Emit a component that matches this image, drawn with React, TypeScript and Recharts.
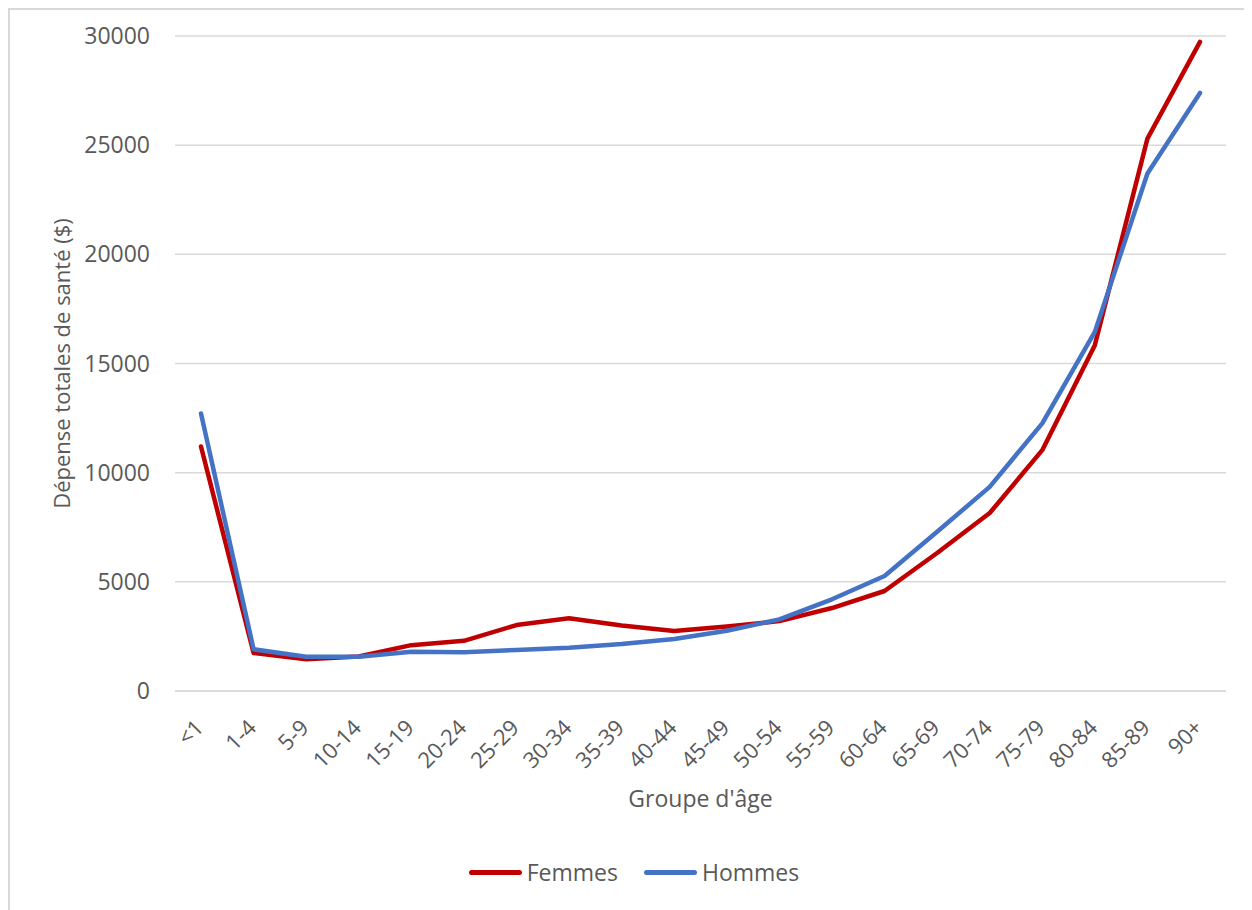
import React from 'react';
import { LineChart, Line, XAxis, YAxis, CartesianGrid, Legend } from 'recharts';

const ageGroups = ['<1', '1-4', '5-9', '10-14', '15-19', '20-24', '25-29', '30-34', '35-39', '40-44', '45-49', '50-54', '55-59', '60-64', '65-69', '70-74', '75-79', '80-84', '85-89', '90+'];
const femmes = [11200, 1740, 1450, 1580, 2100, 2300, 3020, 3330, 3000, 2750, 2950, 3200, 3800, 4580, 6320, 8150, 11030, 15840, 25300, 29730];
const hommes = [12710, 1910, 1570, 1570, 1800, 1780, 1880, 1980, 2150, 2380, 2760, 3280, 4200, 5270, 7290, 9350, 12260, 16450, 23700, 27390];
const yTicks = [0, 5000, 10000, 15000, 20000, 25000, 30000];

const series = [
  { key: 'femmes', name: 'Femmes', color: '#C00000' },
  { key: 'hommes', name: 'Hommes', color: '#4472C4' },
];

const data = ageGroups.map((age, i) => ({ age, femmes: femmes[i], hommes: hommes[i] }));

const FONT = '"Open Sans", sans-serif';
const TEXT = '#595959';
const GRID = '#d9d9d9';
const SIZE = 23;

function AgeTick({ x, y, payload }: any) {
  return (
    <g transform={`translate(${x + 4},${y + 30})`}>
      <text transform="rotate(-45)" textAnchor="end" fill={TEXT} fontSize={SIZE - 1} fontFamily={FONT}>
        {payload.value}
      </text>
    </g>
  );
}

function YTitle({ viewBox }: any) {
  const cx = viewBox.x + 51;
  const cy = viewBox.y + viewBox.height / 2;
  return (
    <text
      x={cx}
      y={cy}
      transform={`rotate(-90, ${cx}, ${cy})`}
      textAnchor="middle"
      dominantBaseline="central"
      fill={TEXT}
      fontSize={22}
      fontFamily={FONT}
    >
      Dépense totales de santé ($)
    </text>
  );
}

function LegendContent() {
  return (
    <div style={{ display: 'flex', justifyContent: 'center', alignItems: 'center', gap: 26, paddingLeft: 6 }}>
      {series.map((s) => (
        <div key={s.key} style={{ display: 'flex', alignItems: 'center', gap: 5 }}>
          <span style={{ display: 'inline-block', width: 53, height: 5, borderRadius: 3, background: s.color }} />
          <span style={{ color: TEXT, fontSize: SIZE, fontFamily: FONT, lineHeight: '30px' }}>{s.name}</span>
        </div>
      ))}
    </div>
  );
}

export default function App() {
  return (
    <div
      style={{
        width: 1242,
        height: 900,
        borderTop: `2px solid ${GRID}`,
        borderLeft: `2px solid ${GRID}`,
        background: '#fff',
        fontFamily: FONT,
      }}
    >
      <LineChart width={1242} height={900} data={data} margin={{ top: 26, right: 26, left: 0, bottom: 103 }}>
        <CartesianGrid vertical={false} stroke={GRID} strokeWidth={1.5} />
        <XAxis
          dataKey="age"
          interval={0}
          height={116}
          padding={{ left: 26, right: 26 }}
          axisLine={{ stroke: GRID, strokeWidth: 1.5 }}
          tickLine={false}
          tick={<AgeTick />}
          label={{ value: "Groupe d'âge", position: 'insideBottom', offset: 0, fill: TEXT, fontSize: SIZE, fontFamily: FONT }}
        />
        <YAxis
          width={165}
          domain={[0, 30000]}
          ticks={yTicks}
          axisLine={false}
          tickLine={false}
          tickMargin={19}
          tick={{ fill: TEXT, fontSize: SIZE, fontFamily: FONT }}
          label={<YTitle />}
        />
        <Legend
          verticalAlign="middle"
          align="center"
          layout="horizontal"
          wrapperStyle={{ top: 847, left: 0, width: 1242 }}
          content={<LegendContent />}
        />
        {series.map((s) => (
          <Line
            key={s.key}
            dataKey={s.key}
            name={s.name}
            type="linear"
            stroke={s.color}
            strokeWidth={4.5}
            strokeLinecap="round"
            strokeLinejoin="round"
            dot={false}
            activeDot={false}
            isAnimationActive={false}
          />
        ))}
      </LineChart>
    </div>
  );
}
